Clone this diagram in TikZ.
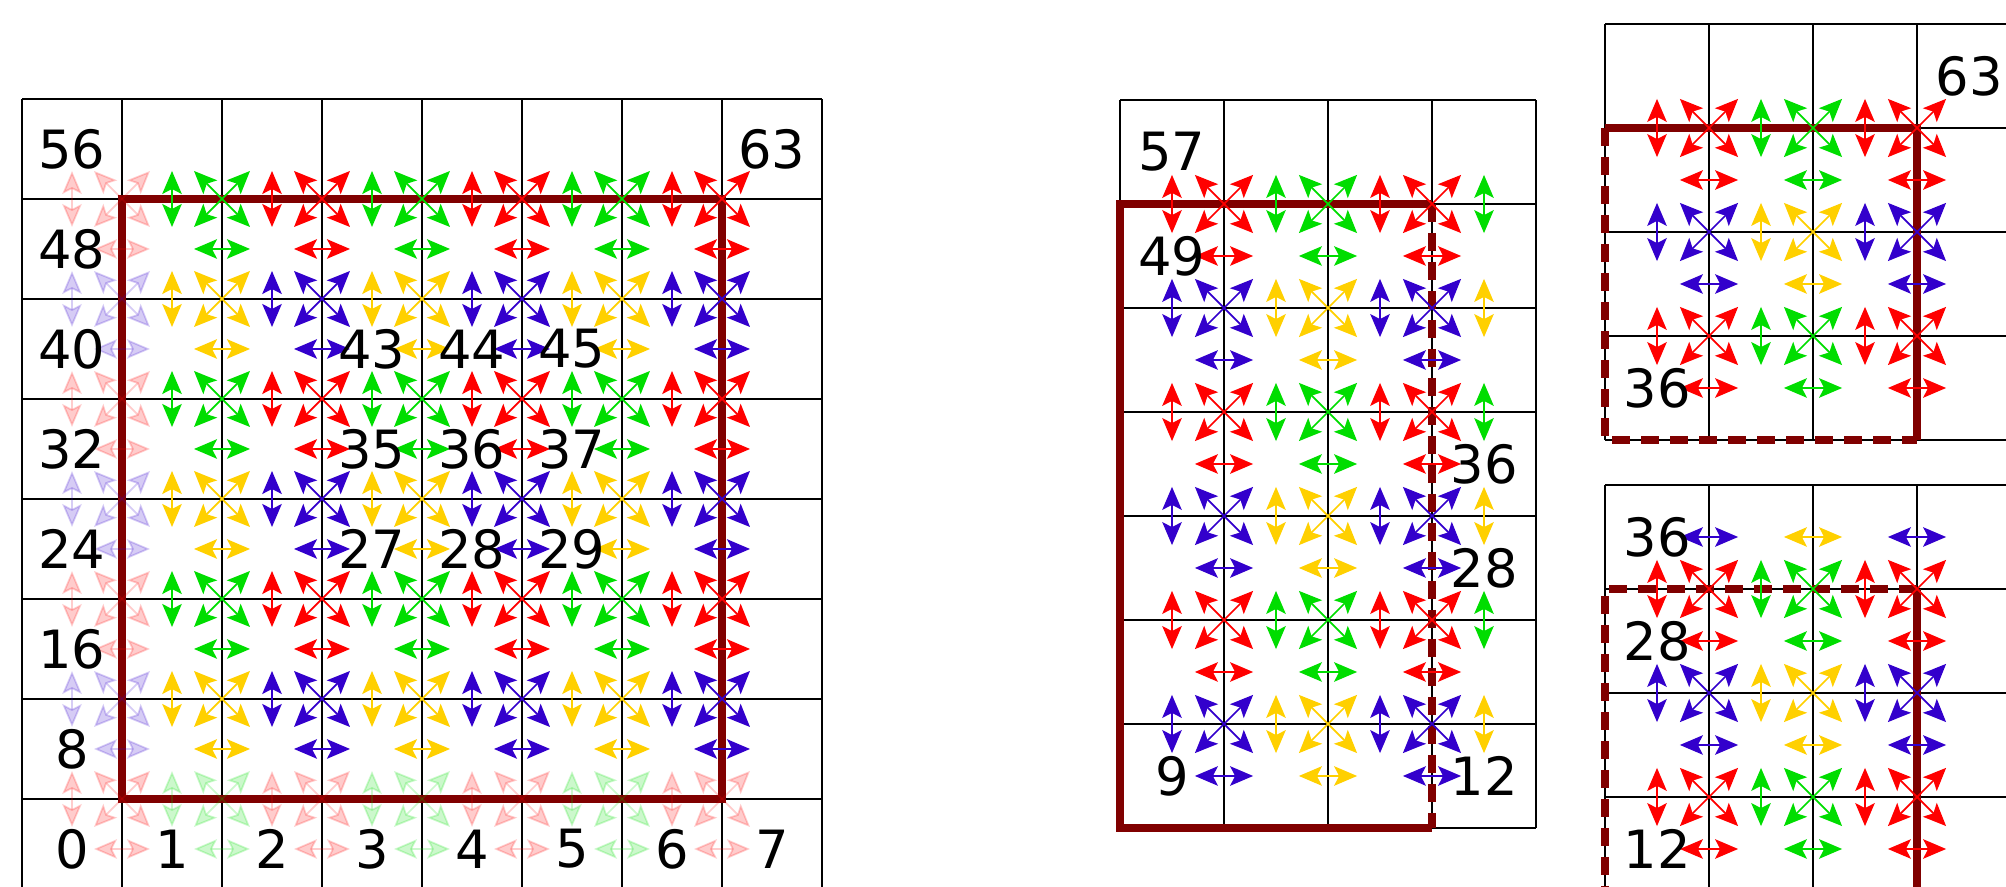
\documentclass[tikz,border=0pt]{standalone}
\usepackage{fontspec}
\setmainfont{DejaVu Sans}
\usetikzlibrary{arrows.meta}
\definecolor{phred}{RGB}{255,0,0}
\definecolor{phgreen}{RGB}{0,221,0}
\definecolor{phyellow}{RGB}{255,208,0}
\definecolor{phblue}{RGB}{51,0,204}
\definecolor{wallred}{RGB}{128,0,0}
\colorlet{ph00}{phred}
\colorlet{ph10}{phgreen}
\colorlet{ph01}{phblue}
\colorlet{ph11}{phyellow}
\tikzset{
  gridline/.style={draw=black, line width=0.5pt},
  wall/.style={draw=wallred, line width=2.2pt, line join=miter},
  cutwall/.style={wall, dash pattern=on 0.18cm off 0.11cm},
  link/.style={line width=0.5pt, >={Stealth[length=2.3mm,width=1.95mm,inset=0.5mm]}, <->},
  lbl/.style={font=\fontsize{15}{18}\selectfont, inner sep=0pt},
}
\newcommand{\vlink}[3]{\draw[link,#3] (#1+0.5,#2+0.72) -- (#1+0.5,#2+1.28);}
\newcommand{\hlink}[3]{\draw[link,#3] (#1+0.72,#2+0.5) -- (#1+1.28,#2+0.5);}
\newcommand{\dlink}[3]{%
  \draw[link,#3] (#1+0.72,#2+0.72) -- (#1+1.28,#2+1.28);
  \draw[link,#3] (#1+0.72,#2+1.28) -- (#1+1.28,#2+0.72);}
\newcommand{\cellarrows}[3]{\vlink{#1}{#2}{#3}\dlink{#1}{#2}{#3}\hlink{#1}{#2}{#3}}
\newcommand{\numlabel}[2]{%
  \pgfmathtruncatemacro{\labc}{mod(#2,8)}%
  \pgfmathtruncatemacro{\labj}{floor(#2/8)}%
  \node[lbl] (#1#2) at (\labc+0.5,\labj+0.5) {#2};}

\begin{document}
\begin{tikzpicture}
  \useasboundingbox (0,0) rectangle (20.06,8.87);
  \clip (0,0) rectangle (20.06,8.87);

  % full 8x8 domain
  \begin{scope}[shift={(0.22,-0.12)}]
    \draw[gridline] (0,0) grid (8,8);
    \draw[wall] (1,1) rectangle (7,7);
    \foreach \c in {0,...,6}
      \foreach \j in {0,...,6} {
        \pgfmathtruncatemacro{\pa}{mod(\c,2)}
        \pgfmathtruncatemacro{\pb}{mod(\j,2)}
        \pgfmathsetmacro{\op}{ifthenelse(\c==0 || \j==0, 0.2, 1)}
        \cellarrows{\c}{\j}{color=ph\pa\pb, opacity=\op}
      }
    \foreach \n in {0,...,7,8,16,24,32,40,48,56,63,27,28,29,35,36,37,43,44,45}
      {\numlabel{L}{\n}}
  \end{scope}

  % left block
  \begin{scope}[shift={(10.16,-0.45)}, scale=1.04]
    \draw[gridline] (1,1) grid (5,8);
    \draw[wall] (4,7) -- (1,7) -- (1,1) -- (4,1);
    \draw[cutwall] (4,7) -- (4,1);
    \foreach \c in {1,...,4}
      \foreach \j in {1,...,6} {
        \pgfmathtruncatemacro{\pa}{mod(\c-1,2)}
        \pgfmathtruncatemacro{\pb}{mod(\j,2)}
        \vlink{\c}{\j}{color=ph\pa\pb}
        \ifnum\c<4
          \dlink{\c}{\j}{color=ph\pa\pb}
          \hlink{\c}{\j}{color=ph\pa\pb}
        \fi
      }
    \foreach \n in {57,49,36,28,12,9}
      {\numlabel{M}{\n}}
  \end{scope}

  % upper right block
  \begin{scope}[shift={(11.89,0.31)}, scale=1.04]
    \draw[gridline] (4,4) grid (8,8);
    \draw[wall] (4,7) -- (7,7) -- (7,4);
    \draw[cutwall] (4,7) -- (4,4) -- (7,4);
    \foreach \c in {4,5,6}
      \foreach \j in {4,5,6} {
        \pgfmathtruncatemacro{\pa}{mod(\c,2)}
        \pgfmathtruncatemacro{\pb}{mod(\j,2)}
        \cellarrows{\c}{\j}{color=ph\pa\pb}
      }
    \foreach \n in {63,36}
      {\numlabel{T}{\n}}
  \end{scope}

  % lower right block
  \begin{scope}[shift={(11.89,-1.18)}, scale=1.04]
    \draw[gridline] (4,1) grid (8,5);
    \draw[wall] (7,4) -- (7,1) -- (4,1);
    \draw[cutwall] (7,4) -- (4,4) -- (4,1);
    \foreach \c in {4,5,6} {
      \pgfmathtruncatemacro{\pa}{mod(\c,2)}
      \foreach \j in {1,2,3} {
        \pgfmathtruncatemacro{\pb}{mod(\j-1,2)}
        \cellarrows{\c}{\j}{color=ph\pa\pb}
      }
      \hlink{\c}{4}{color=ph\pa1}
    }
    \foreach \n in {36,28,12}
      {\numlabel{B}{\n}}
  \end{scope}
\end{tikzpicture}
\end{document}
